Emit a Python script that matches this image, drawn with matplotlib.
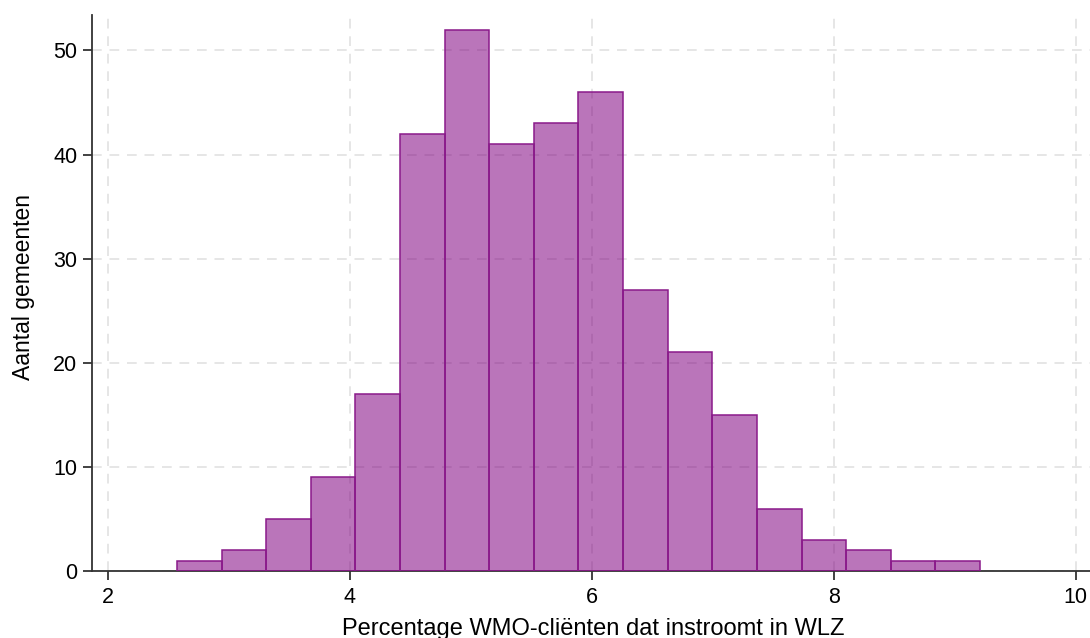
import matplotlib
matplotlib.use("Agg")
import matplotlib.pyplot as plt
import numpy as np

plt.rcParams['font.family'] = ['Liberation Sans', 'DejaVu Sans']

# Data
counts = [1, 2, 5, 9, 17, 42, 52, 41, 43, 46, 27, 21, 15, 6, 3, 2, 1, 1]
bin_start = 2.57
bin_width = 0.3688
xticks = [2, 4, 6, 8, 10]
yticks = [0, 10, 20, 30, 40, 50]
xlabel = "Percentage WMO-cliënten dat instroomt in WLZ"
ylabel = "Aantal gemeenten"

W, H = 1090, 638
fig = plt.figure(figsize=(W / 100, H / 100), dpi=100)
ax = fig.add_axes([92 / W, (H - 571) / H, (1100 - 92) / W, (571 - 15) / H])

lefts = bin_start + bin_width * np.arange(len(counts))
ax.bar(lefts, counts, width=bin_width, align='edge',
       color=(0.5, 0.0, 0.5, 0.54), edgecolor='#8a1a8a', linewidth=1.1, zorder=3)

ax.set_xlim(1.868, 10.2)
ax.set_ylim(0, 53.4)
ax.set_xticks(xticks)
ax.set_yticks(yticks)
ax.grid(True, linestyle=(0, (5, 4)), color='#e6e6e6', linewidth=1.4, zorder=0)

for s in ['top', 'right']:
    ax.spines[s].set_visible(False)
for s in ['left', 'bottom']:
    ax.spines[s].set_color('#333333')
    ax.spines[s].set_linewidth(1.3)

ax.tick_params(axis='both', direction='out', length=6.5, width=1.3,
               color='#333333', labelsize=15.5)
ax.tick_params(axis='x', pad=5)
ax.tick_params(axis='y', pad=4)

ax.set_xlabel(xlabel, fontsize=17)
ax.set_ylabel(ylabel, fontsize=16.5)
ax.xaxis.set_label_coords((593 - 92) / 1008, -(629 - 571) / 556)
ax.xaxis.label.set_va('center')
ax.yaxis.set_label_coords(-(92 - 24) / 1008, (571 - 287) / 556)
ax.yaxis.label.set_va('center')

fig.savefig("out.png", dpi=100)
